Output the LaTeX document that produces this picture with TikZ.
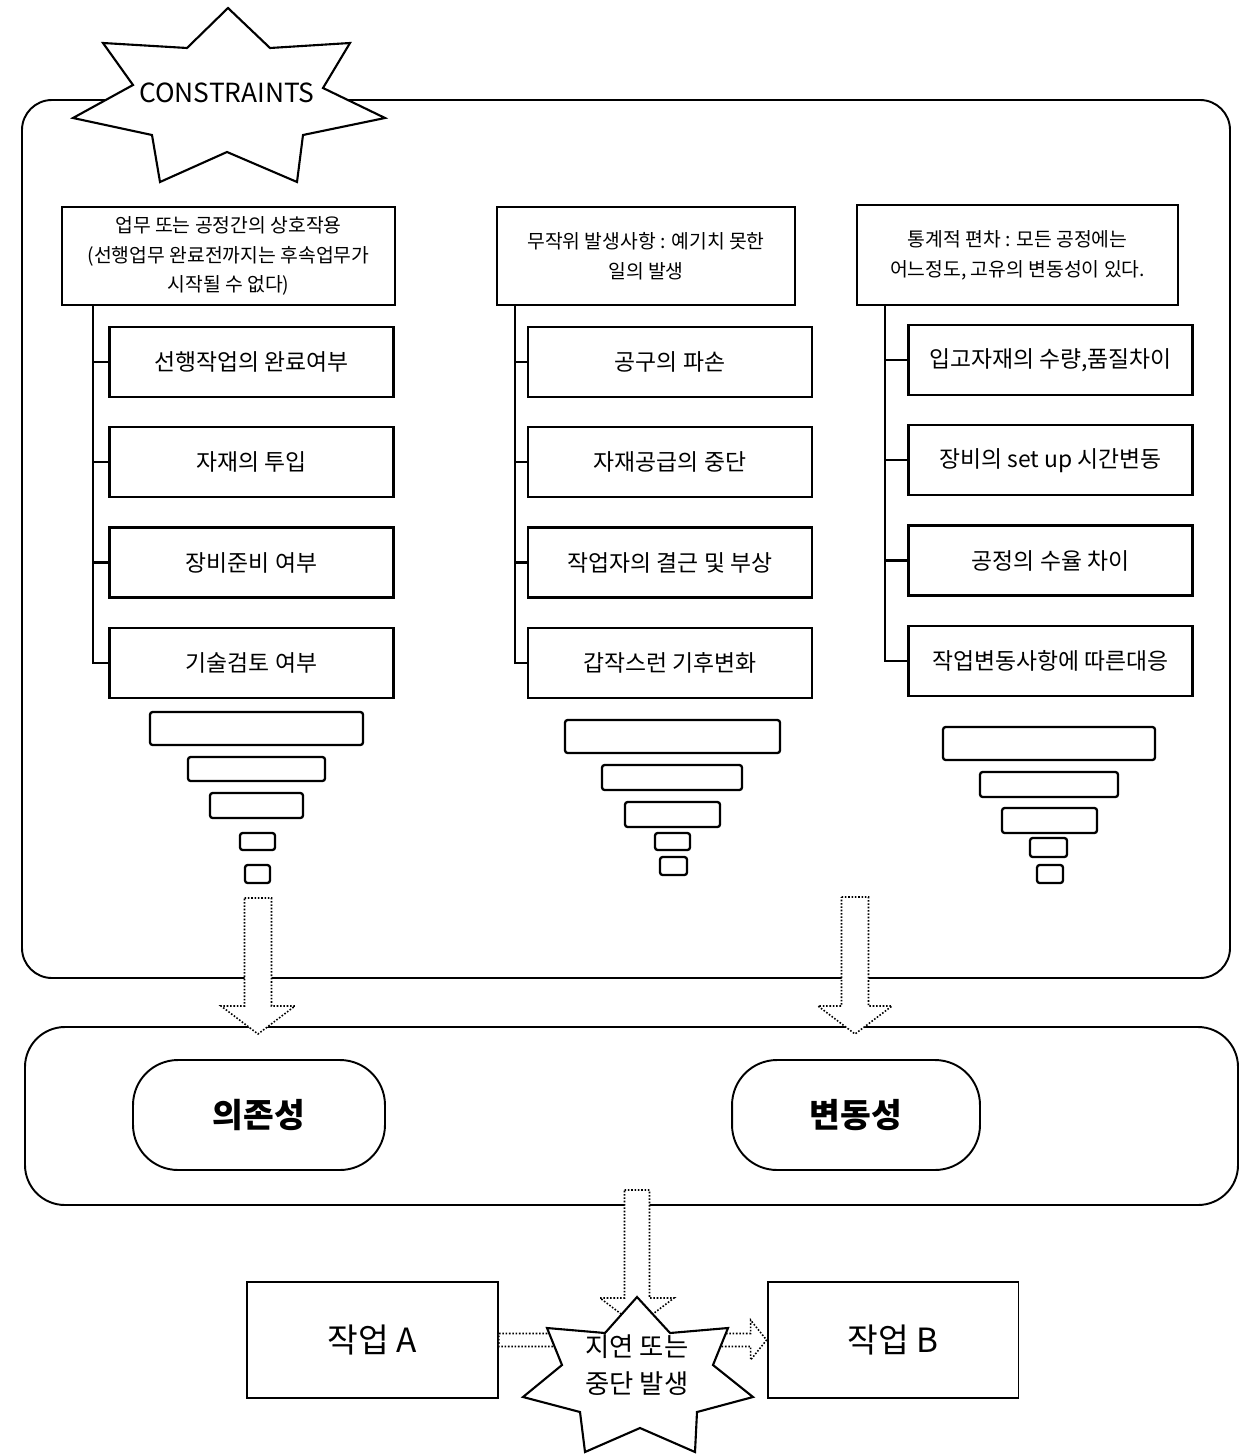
\documentclass[tikz,border=0pt]{standalone}
\usepackage{fontspec}
\setmainfont{Noto Sans CJK KR}
\usetikzlibrary{positioning}

\begin{document}
\begin{tikzpicture}[x=0.02cm, y=-0.02cm, node distance=0.56cm,
    frame/.style={draw, line width=1.1pt, rounded corners=0.6cm},
    hdr/.style={draw, line width=1.3pt, align=center, minimum height=1.96cm,
      font=\fontsize{11}{17}\selectfont},
    item/.style={draw, line width=1.3pt, minimum width=5.68cm, minimum height=1.4cm,
      font=\fontsize{13}{15}\selectfont},
    tree/.style={draw, line width=1.3pt},
    bar/.style={draw, line width=1.3pt, rounded corners=1.5pt},
    pill/.style={draw, line width=1.1pt, rounded corners=0.9cm, minimum height=2.2cm,
      font=\bfseries\fontsize{19}{22}\selectfont},
    task/.style={draw, line width=1.1pt, minimum width=5.02cm, minimum height=2.32cm,
      font=\fontsize{19}{22}\selectfont},
    hollow/.style={draw, densely dotted, line width=0.9pt, fill=white},
    burst/.style={draw, line width=1.2pt, fill=white, line join=miter}]
  \useasboundingbox (0,0) rectangle (1246,1456);

  % upper frame with the constraints burst
  \draw[frame] (22,100) rectangle (1230,978);
  \draw[burst] (228,8) -- (270,48) -- (350,43) -- (323,88) -- (385,118) -- (303,135)
    -- (297,182) -- (227,152) -- (160,182) -- (152,135) -- (73,118) -- (133,85)
    -- (103,43) -- (187,48) -- cycle;
  \node[font=\fontsize{15}{17}\selectfont] (cons) at (227,93) {CONSTRAINTS};

  % three causes
  \node[hdr, minimum width=6.66cm] (h1) at (228.5,256)
    {업무 또는 공정간의 상호작용\\(선행업무 완료전까지는 후속업무가\\시작될 수 없다)};
  \node[hdr, minimum width=5.96cm] (h2) at (646,256)
    {무작위 발생사항 : 예기치 못한\\일의 발생};
  \node[hdr, minimum width=6.42cm, minimum height=2cm] (h3) at (1017.5,255)
    {통계적 편차 : 모든 공정에는\\어느정도, 고유의 변동성이 있다.};

  \node[item] (a1) at (251.5,362) {선행작업의 완료여부};
  \node[item, below=of a1] (a2) {자재의 투입};
  \node[item, below=of a2] (a3) {장비준비 여부};
  \node[item, below=of a3] (a4) {기술검토 여부};

  \node[item] (b1) at (670,362) {공구의 파손};
  \node[item, below=of b1] (b2) {자재공급의 중단};
  \node[item, below=of b2] (b3) {작업자의 결근 및 부상};
  \node[item, below=of b3] (b4) {갑작스런 기후변화};

  \node[item] (c1) at (1050.5,360) {입고자재의 수량,품질차이};
  \node[item, below=of c1] (c2) {장비의 set up 시간변동};
  \node[item, below=of c2] (c3) {공정의 수율 차이};
  \node[item, below=of c3] (c4) {작업변동사항에 따른대응};

  \coordinate (ta) at (93,305);
  \coordinate (tb) at (515,305);
  \coordinate (tc) at (885,305);
  \foreach \t/\n in {ta/a, tb/b, tc/c} {
    \draw[tree] (\t) |- (\n4);
    \foreach \i in {1,2,3}
      \draw[tree] (\t |- \n\i) -- (\n\i);
  }

  % funnels
  \foreach \x/\y/\w/\h in {150/712/213/33, 188/757/137/24, 210/793/93/25, 240/833/35/17, 245/865/25/18,
      565/720/215/33, 602/765/140/25, 625/802/95/25, 655/833/35/17, 660/857/27/18,
      943/727/212/33, 980/772/138/25, 1002/808/95/25, 1030/838/37/19, 1037/865/26/18}
    \draw[bar] (\x,\y) rectangle ++(\w,\h);

  % lower frame
  \draw[frame, rounded corners=0.8cm] (25,1027) rectangle (1238,1205);
  \node[pill, minimum width=5.04cm] (dep) at (259,1115) {의존성};
  \node[pill, minimum width=4.96cm] (var) at (856,1115) {변동성};

  \foreach \cx/\top in {258/898, 855/897}
    \draw[hollow] (\cx-13.5,\top) -- (\cx+13.5,\top) -- (\cx+13.5,1006) -- (\cx+37,1006)
      -- (\cx,1034) -- (\cx-37,1006) -- (\cx-13.5,1006) -- cycle;
  \draw[hollow] (624.5,1190) -- (649.5,1190) -- (649.5,1298) -- (674,1298) -- (637,1326)
    -- (600,1298) -- (624.5,1298) -- cycle;

  % tasks
  \node[task] (A) at (372.5,1340) {작업 A};
  \node[task] (B) at (893,1340) {작업 B};
  \draw[hollow] ([yshift=0.13cm]A.east) -- ([xshift=-0.32cm,yshift=0.13cm]B.west)
    -- ([xshift=-0.32cm,yshift=0.4cm]B.west) -- (B.west)
    -- ([xshift=-0.32cm,yshift=-0.4cm]B.west) -- ([xshift=-0.32cm,yshift=-0.13cm]B.west)
    -- ([yshift=-0.13cm]A.east) -- cycle;

  \draw[burst] (637,1297) -- (670,1333) -- (728,1328) -- (713,1365) -- (753,1397) -- (697,1412)
    -- (695,1452) -- (640,1428) -- (585,1452) -- (580,1412) -- (523,1397) -- (562,1365)
    -- (547,1328) -- (605,1333) -- cycle;
  \node[align=center, font=\fontsize{15}{21}\selectfont] (halt) at (637,1365)
    {지연 또는\\중단 발생};
\end{tikzpicture}
\end{document}
